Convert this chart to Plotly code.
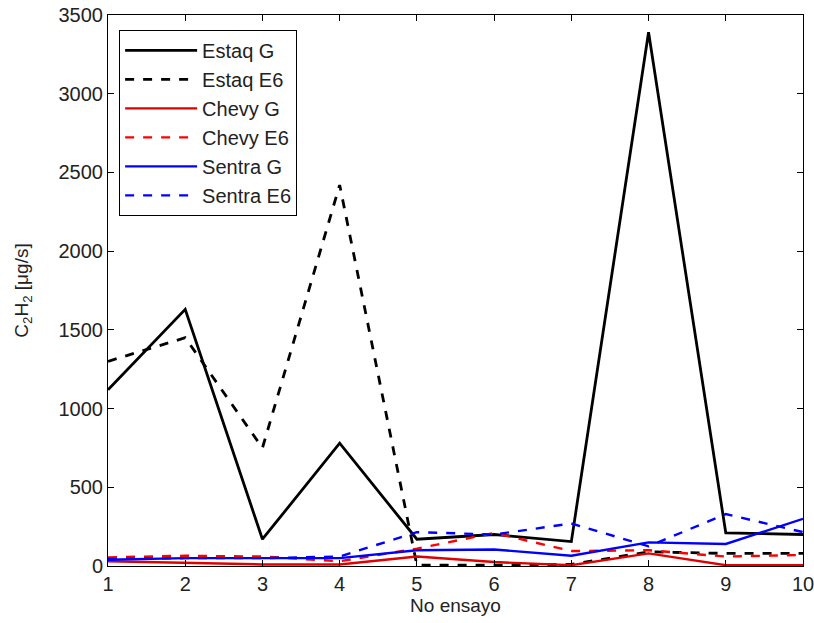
import plotly.graph_objects as go

ensayo = [1, 2, 3, 4, 5, 6, 7, 8, 9, 10]
estaq_g = [1120, 1630, 170, 780, 170, 200, 155, 3390, 210, 200]
estaq_e6 = [1300, 1450, 750, 2420, 5, 5, 10, 90, 80, 80]
chevy_g = [30, 20, 10, 10, 60, 25, 5, 80, 5, 5]
chevy_e6 = [55, 65, 60, 30, 110, 210, 95, 100, 60, 70]
sentra_g = [40, 50, 50, 50, 100, 105, 65, 150, 140, 300]
sentra_e6 = [45, 50, 50, 60, 215, 200, 270, 125, 330, 215]

series = [
    ("Estaq G", estaq_g, "#000000", "solid", 2.8),
    ("Estaq E6", estaq_e6, "#000000", "dash", 2.8),
    ("Chevy G", chevy_g, "#e00000", "solid", 2.4),
    ("Chevy E6", chevy_e6, "#ff0000", "dash", 2.4),
    ("Sentra G", sentra_g, "#0000ff", "solid", 2.4),
    ("Sentra E6", sentra_e6, "#0000ff", "dash", 2.4),
]

fig = go.Figure()
for name, ys, color, dash, w in series:
    fig.add_trace(go.Scatter(
        x=ensayo, y=ys, mode="lines", name=name,
        line=dict(color=color, dash=dash, width=w),
    ))

font_family = "Liberation Sans, Arial, sans-serif"
axis_common = dict(
    showline=True, linecolor="black", linewidth=1, mirror="ticks",
    ticks="inside", ticklen=6, tickcolor="black", showgrid=False,
    zeroline=False, automargin=False, ticklabeloverflow="allow",
    tickfont=dict(size=20, color="#222222", family=font_family),
)

fig.update_layout(
    width=814, height=623,
    margin=dict(l=108, r=11, t=15, b=57),
    paper_bgcolor="white", plot_bgcolor="white",
    font=dict(family=font_family, color="#222222"),
    xaxis=dict(range=[1, 10], tickvals=ensayo, ticktext=[str(v) for v in ensayo],
               title=dict(text="No ensayo", font=dict(size=19), standoff=4),
               **axis_common),
    yaxis=dict(range=[0, 3500], tickvals=[0, 500, 1000, 1500, 2000, 2500, 3000, 3500],
               title=dict(text="C<sub>2</sub>H<sub>2</sub> [μg/s]", font=dict(size=19), standoff=24),
               **axis_common),
    legend=dict(x=0.016, y=0.973, xanchor="left", yanchor="top",
                bgcolor="white", bordercolor="black", borderwidth=1,
                font=dict(size=20, family=font_family, color="#222222"),
                itemwidth=72),
    showlegend=True,
)

# remove the default page margin so the figure fills the window exactly
fig.write_html(
    "out.html",
    config={"displayModeBar": False},
    post_script="document.body.style.margin='0';document.body.style.overflow='hidden';",
)
